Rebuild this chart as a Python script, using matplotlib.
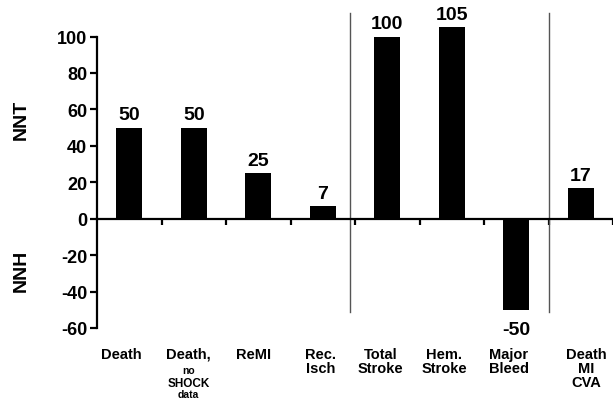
import matplotlib
matplotlib.use("Agg")
import matplotlib.pyplot as plt
import numpy as np

plt.rcParams['font.family'] = ['Liberation Sans', 'DejaVu Sans']

main_labels = ["Death", "Death,", "ReMI", "Rec.\nIsch", "Total\nStroke", "Hem.\nStroke", "Major\nBleed", "Death\nMI\nCVA"]
values = [50, 50, 25, 7, 100, 105, -50, 17]
label_offsets = [-0.13, -0.08, -0.08, -0.03, -0.1, -0.12, -0.12, 0.09]
y_ticks = [-60, -40, -20, 0, 20, 40, 60, 80, 100]
divider_x = [3.42, 6.51]

fig = plt.figure(figsize=(6.13, 4.02), dpi=100)
ax = fig.add_axes([97/613, 73/402, 1 - 97/613, (329 - 12)/402])
x = np.arange(len(values))
ax.bar(x, values, width=0.4, color='black')
ax.set_xlim(-0.5, 7.5)
ax.set_ylim(-60, 114)

for s in ['top', 'right']:
    ax.spines[s].set_visible(False)
ax.spines['bottom'].set_position(('data', 0))
ax.spines['left'].set_bounds(-60, 100)
ax.spines['left'].set_linewidth(1.6)
ax.spines['bottom'].set_linewidth(1.6)

ax.set_yticks(y_ticks)
ax.set_yticklabels([str(t) for t in y_ticks], fontsize=13, fontweight='bold')
ax.tick_params(axis='y', direction='out', length=5, width=1.6, pad=2)
ax.set_xticks(np.arange(0.5, 8, 1.0))
ax.set_xticklabels([])
ax.tick_params(axis='x', direction='out', length=4, width=1.6)

for xv in divider_x:
    ax.plot([xv, xv], [-51, 113], color='#555555', lw=1.0, clip_on=False)

for xi, v in zip(x, values):
    if v >= 0:
        ax.annotate(str(v), (xi, v), xytext=(0, 3), textcoords='offset points',
                    ha='center', va='bottom', fontsize=14, fontweight='bold')
    else:
        ax.annotate(str(v), (xi, v), xytext=(0, -8), textcoords='offset points',
                    ha='center', va='top', fontsize=14, fontweight='bold')

trans = ax.get_xaxis_transform()
label_y = -(348 - 329) / 317
for xi, lab, off in zip(x, main_labels, label_offsets):
    ax.text(xi + off, label_y, lab, transform=trans, ha='center', va='top',
            fontsize=10.5, fontweight='bold', linespacing=0.98)

# sub-lines for the second label
ax.annotate("no", (1 - 0.08, label_y), xycoords=trans, xytext=(0, -13),
            textcoords='offset points', ha='center', va='top', fontsize=7.5, fontweight='bold')
ax.annotate("SHOCK", (1 - 0.08, label_y), xycoords=trans, xytext=(0, -21.5),
            textcoords='offset points', ha='center', va='top', fontsize=8.5, fontweight='bold')
ax.annotate("data", (1 - 0.08, label_y), xycoords=trans, xytext=(0, -30),
            textcoords='offset points', ha='center', va='top', fontsize=7.5, fontweight='bold')

fig.text(21/613, 1 - 120/402, "NNT", rotation=90, ha='center', va='center', fontsize=14, fontweight='bold')
fig.text(21/613, 1 - 271/402, "NNH", rotation=90, ha='center', va='center', fontsize=14, fontweight='bold')

fig.savefig("out.png", dpi=100)
